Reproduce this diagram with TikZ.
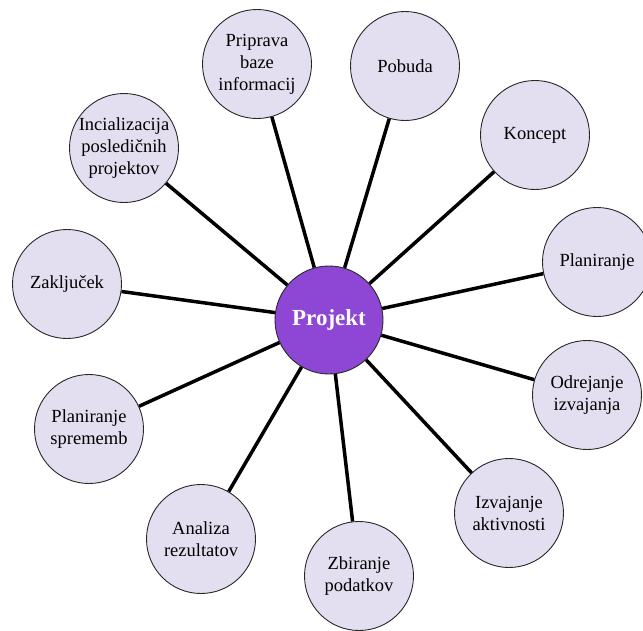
\documentclass[tikz,border=0pt]{standalone}
\usepackage{fontspec}
\setmainfont{Liberation Serif}
\definecolor{outerfill}{RGB}{228,223,240}
\definecolor{centerfill}{RGB}{142,70,212}
\definecolor{rimcol}{RGB}{40,40,40}
\begin{document}
\begin{tikzpicture}[x=1pt,y=-1pt,
  outer/.style={circle, draw=rimcol, line width=0.9pt, fill=outerfill, minimum size=109pt, inner sep=0pt, align=center, font=\fontsize{18.5}{22}\selectfont},
  hub/.style={circle, draw=rimcol, line width=0.9pt, fill=centerfill, minimum size=108pt, inner sep=0pt, text=white, font=\fontsize{23}{27}\selectfont\bfseries},
  spoke/.style={line width=3.5pt, black}]
\useasboundingbox (0,0) rectangle (643,630);
\fill[white] (0,0) rectangle (643,630);
\node[hub] (p) at (329,320) {Projekt};
\node[outer] (a) at (257,64) {Priprava\\baze\\informacij};
\node[outer] (b) at (405,66) {Pobuda};
\node[outer] (c) at (535,135) {Koncept};
\node[outer] (d) at (597,262) {Planiranje};
\node[outer] (e) at (587,395) {Odrejanje\\izvajanja};
\node[outer] (f) at (509,513) {Izvajanje\\aktivnosti};
\node[outer] (g) at (359,576) {Zbiranje\\podatkov};
\node[outer] (h) at (201,539) {Analiza\\rezultatov};
\node[outer] (i) at (89,429) {Planiranje\\sprememb};
\node[outer] (j) at (67,284) {Zaključek};
\node[outer] (k) at (124,148) {Incializacija\\posledičnih\\projektov};
\foreach \n in {a,b,c,d,e,f,g,h,i,j,k}{
  \draw[spoke] (p) -- (\n);
}
\end{tikzpicture}
\end{document}
